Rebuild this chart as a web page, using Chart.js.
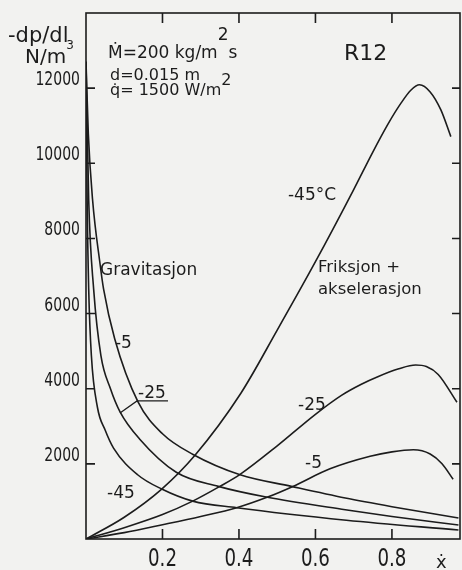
<!DOCTYPE html>
<html><head><meta charset="utf-8">
<script src="https://cdn.jsdelivr.net/npm/chart.js@4.4.1/dist/chart.umd.min.js"></script>
<style>
html,body{margin:0;padding:0;background:#f2f2f0;}
canvas{display:block;}
</style></head><body>
<canvas id="c" width="462" height="570"></canvas>
<script>
// ---- tick labels ----
const xTicks = [0.2, 0.4, 0.6, 0.8];
const yTicks = [2000, 4000, 6000, 8000, 10000, 12000];

// ---- gravitation component (falling curves) ----
const gravM5x  = [0, 0.006, 0.017, 0.037, 0.046, 0.075, 0.136, 0.2, 0.28, 0.403, 0.537, 0.678, 0.8, 0.974];
const gravM5y  = [12700, 10800, 9050, 7300, 6650, 5330, 3650, 2800, 2250, 1710, 1400, 1090, 860, 560];
const gravM25x = [0, 0.007, 0.02, 0.039, 0.064, 0.089, 0.14, 0.236, 0.346, 0.471, 0.678, 0.8, 0.974];
const gravM25y = [12700, 9040, 6650, 4880, 4000, 3385, 2664, 1778, 1401, 1117, 780, 600, 371];
const gravM45x = [0, 0.003, 0.007, 0.014, 0.03, 0.05, 0.072, 0.135, 0.198, 0.279, 0.394, 0.681, 0.974];
const gravM45y = [12700, 9000, 6670, 4890, 3500, 2900, 2420, 1710, 1330, 1008, 833, 500, 239];

// ---- friction + acceleration component (rising curves) ----
const fricM45x = [0, 0.1, 0.198, 0.285, 0.405, 0.5, 0.6, 0.7, 0.75, 0.79, 0.825, 0.85, 0.872, 0.9, 0.928, 0.954];
const fricM45y = [0, 580, 1330, 2230, 3880, 5560, 7380, 9300, 10300, 11050, 11620, 11950, 12090, 11900, 11420, 10710];
const fricM25x = [0, 0.1, 0.2, 0.279, 0.35, 0.402, 0.5, 0.6, 0.669, 0.72, 0.763, 0.818, 0.862, 0.89, 0.921, 0.97];
const fricM25y = [0, 300, 650, 1008, 1400, 1714, 2480, 3320, 3830, 4120, 4320, 4530, 4630, 4590, 4380, 3640];
const fricM5x  = [0, 0.1, 0.2, 0.3, 0.394, 0.475, 0.541, 0.638, 0.743, 0.8, 0.856, 0.9, 0.931, 0.96];
const fricM5y  = [0, 170, 380, 600, 833, 1117, 1400, 1868, 2202, 2320, 2375, 2263, 2003, 1590];

const INK = '#1c1c1c';
const BG = '#f2f2f0';
const TXT = '"DejaVu Sans", sans-serif';

const zip = (xs, ys) => xs.map((x, i) => ({x, y: ys[i]}));
const curve = (xs, ys) => ({
  data: zip(xs, ys), borderColor: INK, borderWidth: 1.6, pointRadius: 0,
  fill: false, cubicInterpolationMode: 'monotone'
});

// annotation texts (placed in data units)
const notes = [
  {parts: [{t: 'Ṁ=200 kg/m'}, {t: '2', rise: 18}, {t: 's'}], x: 0.0575, y: 12804, size: 17},
  {parts: [{t: 'd=0.015 m'}], x: 0.0628, y: 12219, size: 16},
  {parts: [{t: 'q̇= 1500 W/m'}, {t: '2', rise: 10}], x: 0.0628, y: 11819, size: 16},
  {parts: [{t: 'R12'}], x: 0.6747, y: 12751, size: 22},
  {parts: [{t: '-45°C'}], x: 0.5282, y: 9024, size: 17},
  {parts: [{t: 'Gravitasjon'}], x: 0.0366, y: 7028, size: 17},
  {parts: [{t: '-5'}], x: 0.0758, y: 5084, size: 17},
  {parts: [{t: '-25'}], x: 0.136, y: 3753, size: 17},
  {parts: [{t: '-45'}], x: 0.0549, y: 1091, size: 17},
  {parts: [{t: 'Friksjon +'}], x: 0.6067, y: 7108, size: 16.5},
  {parts: [{t: 'akselerasjon'}], x: 0.6067, y: 6522, size: 16.5},
  {parts: [{t: '-25'}], x: 0.5544, y: 3434, size: 17},
  {parts: [{t: '-5'}], x: 0.5727, y: 1890, size: 17}
];
// leader + underline for the "-25" gravitation label (data units)
const leader = [[0.0889, 3354], [0.1334, 3674], [0.2144, 3674]];

function drawRich(ctx, parts, x, y, size, fam) {
  let cx = x;
  parts.forEach(p => {
    const s = p.small ? size * p.small : size;
    ctx.font = s + 'px ' + fam;
    ctx.fillText(p.t, cx, y - (p.rise || 0));
    cx += ctx.measureText(p.t).width;
  });
}
function narrowText(ctx, t, x, y, size, sx, align) {
  ctx.save();
  ctx.font = size + 'px ' + TXT;
  ctx.textAlign = align;
  ctx.translate(x, y);
  ctx.scale(sx, 1);
  ctx.fillText(t, 0, 0);
  ctx.restore();
}

const deco = {
  id: 'deco',
  beforeDraw(chart) {
    const {ctx, width, height} = chart;
    ctx.save(); ctx.fillStyle = BG; ctx.fillRect(0, 0, width, height); ctx.restore();
  },
  afterDraw(chart) {
    const {ctx, chartArea: a, scales: {x, y}} = chart;
    ctx.save();
    ctx.strokeStyle = INK; ctx.lineWidth = 1.6;
    ctx.strokeRect(a.left, a.top, a.right - a.left, a.bottom - a.top);
    ctx.beginPath();
    xTicks.forEach(v => {
      const p = x.getPixelForValue(v);
      ctx.moveTo(p, a.bottom); ctx.lineTo(p, a.bottom - 10);
      ctx.moveTo(p, a.top); ctx.lineTo(p, a.top + 10);
    });
    yTicks.forEach(v => {
      const p = y.getPixelForValue(v);
      ctx.moveTo(a.left, p); ctx.lineTo(a.left + 9, p);
      ctx.moveTo(a.right, p); ctx.lineTo(a.right - 8, p);
    });
    ctx.stroke();
    // leader + underline
    ctx.lineWidth = 1.3;
    ctx.beginPath();
    leader.forEach((pt, i) => {
      const px = x.getPixelForValue(pt[0]), py = y.getPixelForValue(pt[1]);
      if (i === 0) ctx.moveTo(px, py); else ctx.lineTo(px, py);
    });
    ctx.stroke();
    ctx.fillStyle = INK; ctx.textBaseline = 'alphabetic'; ctx.textAlign = 'left';
    // tick labels (narrow lettering)
    yTicks.forEach(v => narrowText(ctx, String(v), a.left - 6, y.getPixelForValue(v) - 3, 20, 0.7, 'right'));
    xTicks.forEach(v => narrowText(ctx, v.toFixed(1), x.getPixelForValue(v), a.bottom + 27, 24, 0.76, 'center'));
    // annotations
    ctx.textAlign = 'left';
    notes.forEach(n => drawRich(ctx, n.parts, x.getPixelForValue(n.x), y.getPixelForValue(n.y), n.size, TXT));
    // axis titles
    drawRich(ctx, [{t: '-dp/dl'}], 8, 42, 21, TXT);
    drawRich(ctx, [{t: 'N/m'}, {t: '3', rise: 14, small: 0.6}], 25, 63, 20, TXT);
    drawRich(ctx, [{t: 'ẋ'}], 436, 568, 18, TXT);
    ctx.restore();
  }
};

new Chart(document.getElementById('c'), {
  type: 'line',
  data: {
    datasets: [
      curve(gravM5x, gravM5y), curve(gravM25x, gravM25y), curve(gravM45x, gravM45y),
      curve(fricM45x, fricM45y), curve(fricM25x, fricM25y), curve(fricM5x, fricM5y)
    ]
  },
  options: {
    responsive: false, animation: false, devicePixelRatio: 1,
    layout: {padding: {left: 0, right: 2, top: 13, bottom: 0}},
    plugins: {legend: {display: false}, tooltip: {enabled: false}},
    scales: {
      x: {
        type: 'linear', min: 0, max: 0.978,
        grid: {display: false, drawTicks: false}, border: {display: false},
        ticks: {display: false, stepSize: 0.2, includeBounds: false},
        afterFit: s => { s.height = 31; }
      },
      y: {
        type: 'linear', min: 0, max: 14000,
        grid: {display: false, drawTicks: false}, border: {display: false},
        ticks: {display: false, stepSize: 2000},
        afterFit: s => { s.width = 86; }
      }
    }
  },
  plugins: [deco]
});
</script>
</body></html>
